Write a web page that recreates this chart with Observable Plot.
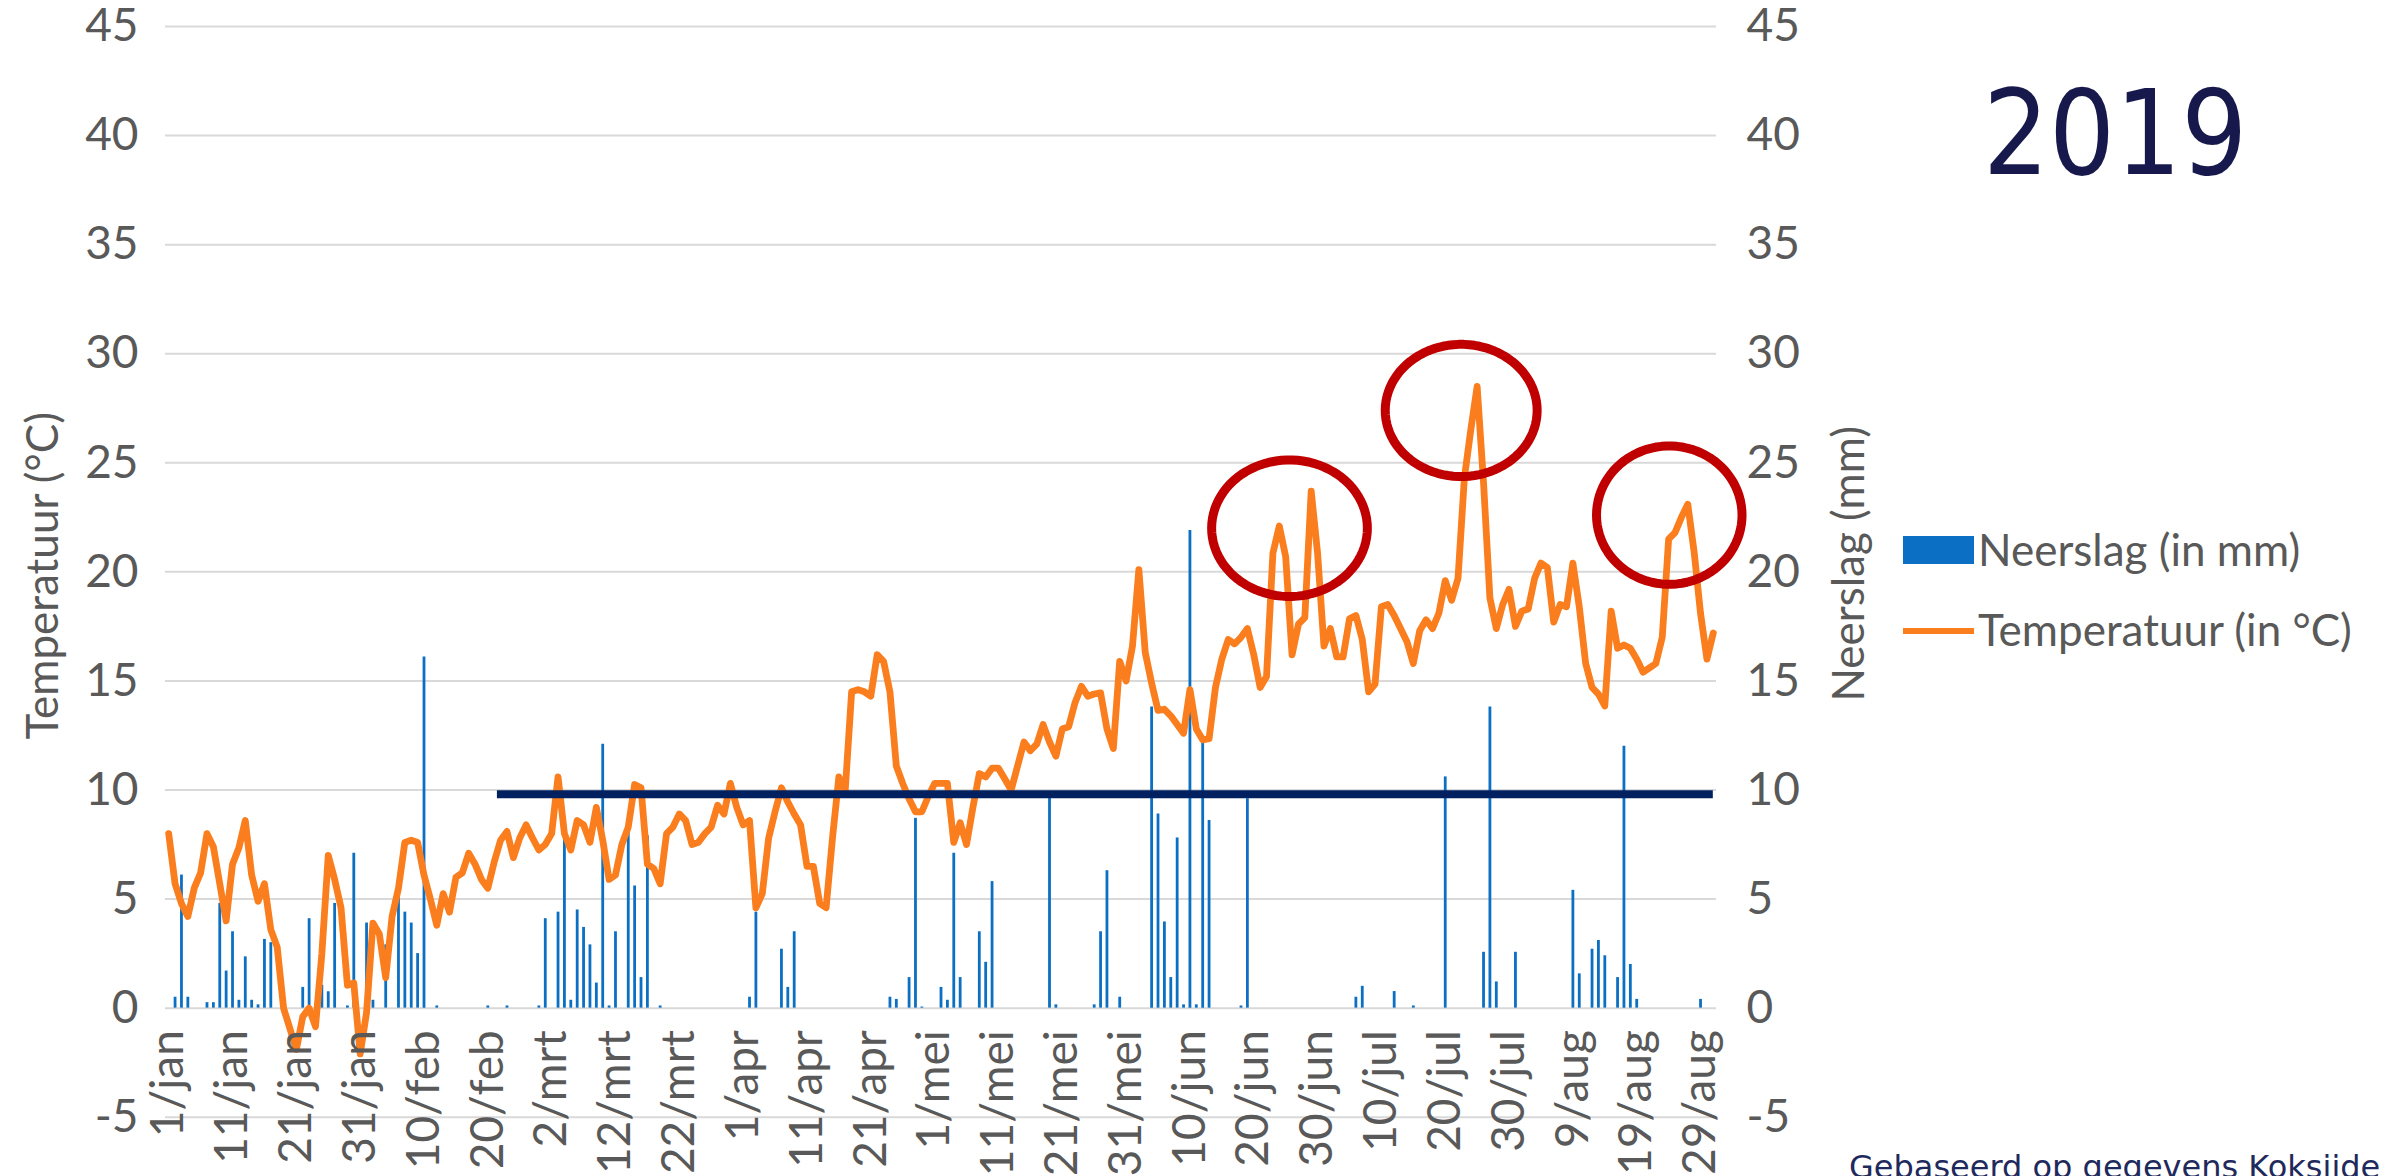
<!DOCTYPE html>
<html>
<head>
<meta charset="utf-8">
<script src="https://cdn.jsdelivr.net/npm/d3@7"></script>
<script src="https://cdn.jsdelivr.net/npm/@observablehq/plot@0.6"></script>
<style>
html, body { margin: 0; padding: 0; background: #ffffff; overflow: hidden; }
#wrap { position: relative; width: 2392px; height: 1176px; overflow: hidden; background: #ffffff; }
#chart { position: absolute; left: 0; top: 0; }
.year { position: absolute; left: 1983px; top: 74px; font-family: "DejaVu Sans", sans-serif; font-size: 118px; line-height: 118px; color: #17184B; transform: scaleX(0.88); transform-origin: 0 0; white-space: nowrap; }
.caption { position: absolute; left: 1849px; top: 1151px; font-family: "DejaVu Sans", sans-serif; font-size: 32px; line-height: 32px; color: #1F2A5C; white-space: nowrap; }
.lg-text { position: absolute; left: 1978px; font-family: Lato, sans-serif; font-size: 44px; line-height: 44px; color: #595959; white-space: nowrap; }
.lg-swatch { position: absolute; left: 1903px; top: 536px; width: 71px; height: 28px; background: #0B6FC3; }
.lg-line { position: absolute; left: 1903px; top: 628px; width: 71px; height: 6px; background: #FA7D1E; }
</style>
</head>
<body>
<div id="wrap">
  <div id="chart"></div>
  <div class="year">2019</div>
  <div class="lg-swatch"></div>
  <div class="lg-text" style="top:527px">Neerslag (in mm)</div>
  <div class="lg-line"></div>
  <div class="lg-text" style="top:607px">Temperatuur (in °C)</div>
  <div class="caption">Gebaseerd op gegevens Koksijde</div>
</div>
<script>
// Daily temperature (°C), 1 Jan 2019 .. 31 Aug 2019 (day index 0..242)
const temps = [
  8.0, 5.7, 4.8, 4.2, 5.5, 6.2, 8.0, 7.4, 5.7, 4.0,
  6.6, 7.35, 8.6, 6.1, 4.9, 5.7, 3.6, 2.8, 0.0, -0.95,
  -1.9, -0.4, 0.0, -0.85, 2.5, 7.0, 5.9, 4.6, 1.05, 1.15,
  -2.1, -0.2, 3.9, 3.4, 1.4, 4.2, 5.5, 7.6, 7.7, 7.6,
  6.1, 5.0, 3.8, 5.25, 4.4, 6.0, 6.2, 7.1, 6.6, 5.9,
  5.5, 6.7, 7.7, 8.1, 6.9, 7.8, 8.4, 7.8, 7.25, 7.5,
  8.0, 10.6, 8.0, 7.25, 8.6, 8.4, 7.6, 9.2, 7.7, 5.9,
  6.1, 7.5, 8.3, 10.25, 10.1, 6.6, 6.4, 5.7, 8.0, 8.3,
  8.9, 8.6, 7.5, 7.6, 8.0, 8.3, 9.3, 8.9, 10.3, 9.2,
  8.4, 8.6, 4.6, 5.25, 7.8, 9.0, 10.1, 9.45, 8.9, 8.4,
  6.5, 6.5, 4.8, 4.6, 7.8, 10.6, 10.0, 14.5, 14.6, 14.5,
  14.3, 16.2, 15.9, 14.5, 11.1, 10.3, 9.6, 9.0, 9.0, 9.7,
  10.3, 10.3, 10.3, 7.6, 8.5, 7.5, 9.2, 10.75, 10.6, 11.0,
  11.0, 10.5, 10.0, 11.1, 12.2, 11.8, 12.1, 13.0, 12.2, 11.55,
  12.8, 12.9, 14.0, 14.75, 14.3, 14.4, 14.45, 12.8, 11.9, 15.9,
  15.0, 16.6, 20.1, 16.3, 14.9, 13.65, 13.7, 13.4, 13.0, 12.6,
  14.6, 12.8, 12.3, 12.35, 14.7, 16.0, 16.9, 16.7, 17.0, 17.4,
  16.2, 14.7, 15.2, 20.85, 22.1, 20.7, 16.2, 17.6, 17.9, 23.7,
  20.85, 16.6, 17.4, 16.1, 16.1, 17.85, 18.0, 16.9, 14.5, 14.85,
  18.4, 18.5, 18.0, 17.4, 16.8, 15.8, 17.3, 17.8, 17.4, 18.1,
  19.6, 18.7, 19.7, 24.3, 26.5, 28.5, 24.1, 18.8, 17.4, 18.5,
  19.2, 17.5, 18.2, 18.3, 19.7, 20.4, 20.2, 17.7, 18.5, 18.4,
  20.4, 18.4, 15.8, 14.7, 14.4, 13.85, 18.2, 16.5, 16.65, 16.5,
  16.0, 15.4, 15.6, 15.8, 17.0, 21.5, 21.8, 22.5, 23.1, 20.9,
  18.1, 16.0, 17.2
];

// Daily precipitation (mm): day index and amount
const rainDay = [1, 2, 3, 6, 7, 8, 9, 10, 11, 12, 13, 14, 15, 16, 21, 22, 24, 25, 26, 28, 29, 31, 32, 34, 36, 37, 38, 39,
  40, 42, 50, 53, 58, 59, 61, 62, 63, 64, 65, 66, 67, 68, 69, 70, 72, 73, 74, 75, 77,
  91, 92, 96, 97, 98, 113, 114, 116, 117, 118, 121, 122, 123, 124, 127, 128, 129, 138, 139,
  145, 146, 147, 149, 154, 155, 156, 157, 158, 159, 160, 161, 162, 163, 168, 169,
  186, 187, 192, 195, 200, 206, 207, 208, 211, 220, 221, 223, 224, 225, 227, 228, 229, 230, 240];
const rainMm = [0.5, 6.1, 0.5, 0.25, 0.25, 4.8, 1.7, 3.5, 0.36, 2.35, 0.36, 0.15, 3.15, 3.0, 0.95, 4.1, 1.05, 0.75, 4.8, 0.1, 7.1, 3.9, 0.36, 2.9, 5.1, 4.4, 3.9, 2.5,
  16.1, 0.1, 0.1, 0.1, 0.1, 4.1, 4.4, 8.0, 0.36, 4.5, 3.7, 2.9, 1.15, 12.1, 0.1, 3.5, 8.1, 5.6, 1.4, 7.9, 0.1,
  0.5, 4.4, 2.7, 0.95, 3.5, 0.5, 0.4, 1.4, 8.7, 0.05, 0.95, 0.36, 7.1, 1.4, 3.5, 2.1, 5.8, 9.9, 0.15,
  0.15, 3.5, 6.3, 0.5, 13.8, 8.9, 3.95, 1.4, 7.8, 0.15, 21.9, 0.15, 12.5, 8.6, 0.1, 9.6,
  0.5, 1.0, 0.76, 0.1, 10.6, 2.56, 13.8, 1.2, 2.56, 5.4, 1.57, 2.7, 3.1, 2.4, 1.4, 12.0, 2.0, 0.4, 0.4];

// Category axis tick labels (every 10 days)
const tickDay = [0, 10, 20, 30, 40, 50, 60, 70, 80, 90, 100, 110, 120, 130, 140, 150, 160, 170, 180, 190, 200, 210, 220, 230, 240];
const tickLabel = ["1/jan", "11/jan", "21/jan", "31/jan", "10/feb", "20/feb", "2/mrt", "12/mrt", "22/mrt", "1/apr", "11/apr", "21/apr",
  "1/mei", "11/mei", "21/mei", "31/mei", "10/jun", "20/jun", "30/jun", "10/jul", "20/jul", "30/jul", "9/aug", "19/aug", "29/aug"];
const yTicks = [-5, 0, 5, 10, 15, 20, 25, 30, 35, 40, 45];

// Annotations
const refLine = [{from: 51.5, to: 242, value: 9.8}];
const circles = [
  {id: 1, cx: 175.6, cy: 22.0, rx: 12.2, ry: 3.13},
  {id: 2, cx: 202.5, cy: 27.4, rx: 11.9, ry: 3.03},
  {id: 3, cx: 235.1, cy: 22.6, rx: 11.4, ry: 3.17}
];

const tempData = temps.map((t, i) => ({day: i, t}));
const rainData = rainDay.map((d, i) => ({day: d, mm: rainMm[i]}));
const tickData = tickDay.map((d, i) => ({day: d, label: tickLabel[i]}));
const ellipsePts = circles.flatMap(c => d3.range(0, 361, 4).map(a => ({
  id: c.id,
  x: c.cx + c.rx * Math.cos(a * Math.PI / 180),
  y: c.cy + c.ry * Math.sin(a * Math.PI / 180)
})));

const grey = "#595959";
const chart = Plot.plot({
  width: 2392,
  height: 1176,
  marginLeft: 165,
  marginRight: 676,
  marginTop: 26,
  marginBottom: 59.3,
  x: {domain: [-0.5, 242.5], axis: null},
  y: {domain: [-5, 45], axis: null},
  style: {fontFamily: "Lato, sans-serif", color: grey, background: "transparent", overflow: "visible"},
  marks: [
    Plot.ruleY(yTicks, {stroke: "#D9D9D9", strokeWidth: 2}),
    Plot.axisY(yTicks, {anchor: "left", tickSize: 0, tickPadding: 27, fontSize: 46, fill: grey, label: null, tickFormat: d => String(d)}),
    Plot.axisY(yTicks, {anchor: "right", tickSize: 0, tickPadding: 30, fontSize: 46, fill: grey, label: null, tickFormat: d => String(d)}),
    Plot.text(["Temperatuur (°C)"], {frameAnchor: "left", textAnchor: "middle", dx: -122, dy: 4, rotate: -90, fontSize: 44, fill: grey}),
    Plot.text(["Neerslag (mm)"], {frameAnchor: "right", textAnchor: "middle", dx: 133, dy: -8, rotate: -90, fontSize: 44, fill: grey}),
    Plot.ruleX(rainData, {x: "day", y1: () => 0, y2: "mm", stroke: "#0B6FC3", strokeWidth: 2.8}),
    Plot.line(tempData, {x: "day", y: "t", stroke: "#FA7D1E", strokeWidth: 6.8, strokeLinejoin: "round", strokeLinecap: "round"}),
    Plot.ruleY(refLine, {y: "value", x1: "from", x2: "to", stroke: "#002060", strokeWidth: 8}),
    Plot.line(ellipsePts, {x: "x", y: "y", z: "id", stroke: "#C00000", strokeWidth: 9}),
    Plot.text(tickData, {x: "day", y: () => 0, text: "label", rotate: -90, textAnchor: "end", dy: 22, fontSize: 46, fill: grey})
  ]
});
document.getElementById("chart").appendChild(chart);
</script>
</body>
</html>
